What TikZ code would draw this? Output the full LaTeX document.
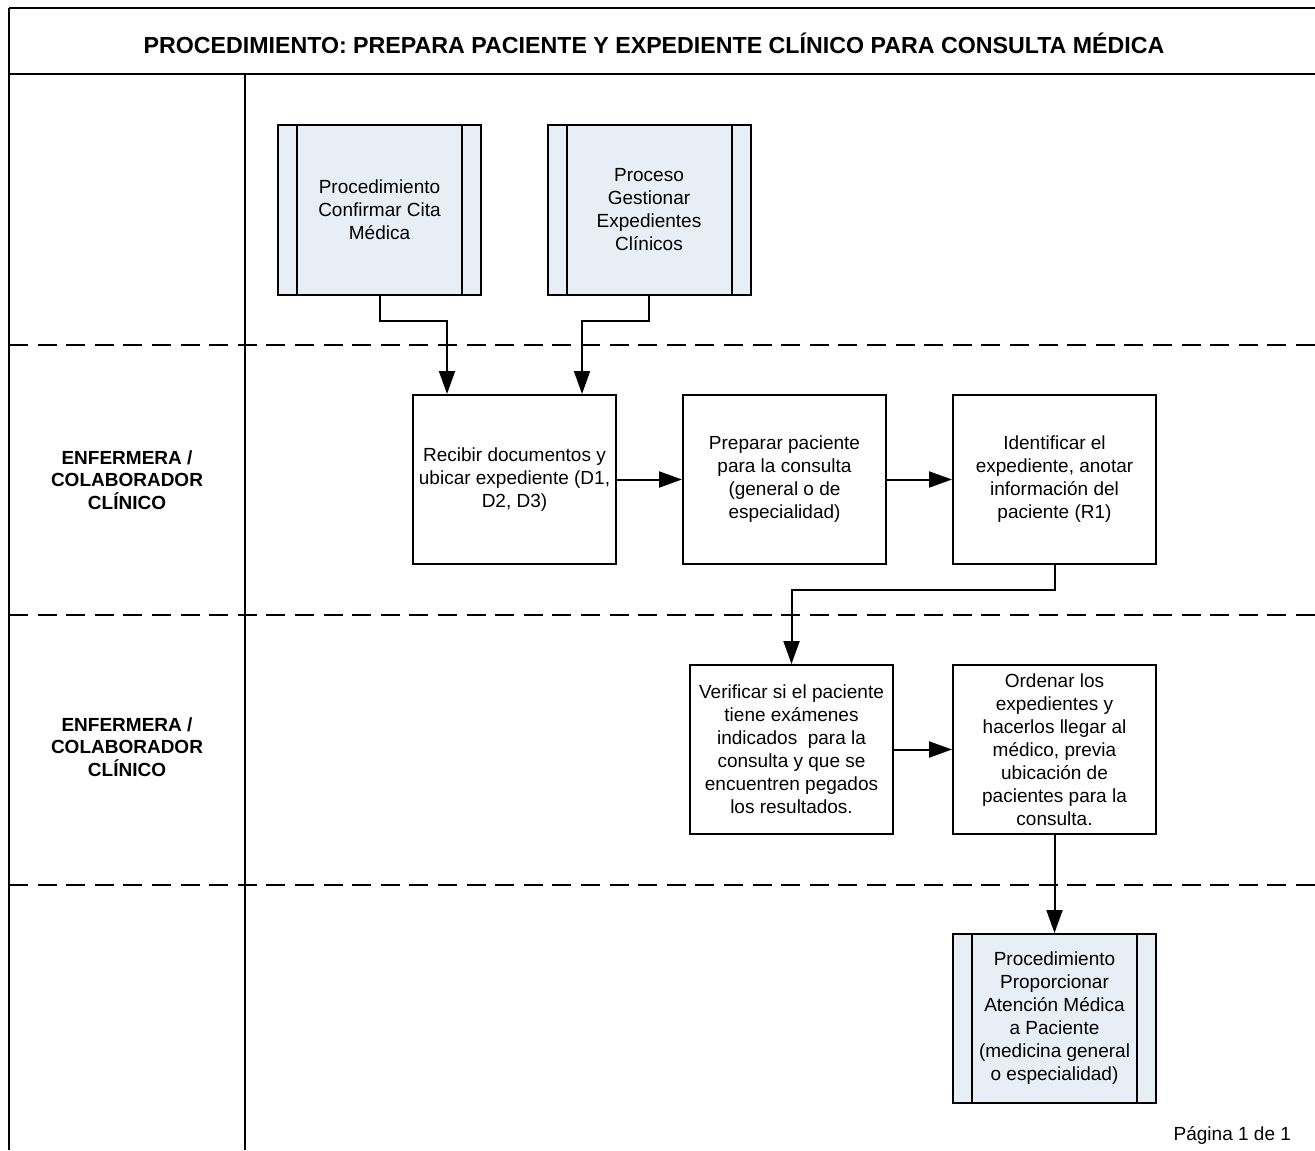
\documentclass[tikz,border=0pt]{standalone}
\usepackage{fontspec}
\setmainfont{Liberation Sans}
\usetikzlibrary{arrows.meta, positioning, calc}
\definecolor{subfill}{RGB}{232,238,246}

\begin{document}
\begin{tikzpicture}[
    x=0.5pt, y=-0.5pt,
    node distance=32.5pt and 32.5pt,
    task/.style={draw, line width=1pt, fill=white, align=center, minimum width=101.5pt,
        minimum height=84.5pt, inner sep=2pt, font=\fontsize{9.5}{11.5}\selectfont},
    subproc/.style={task, fill=subfill},
    flow/.style={-{Triangle[length=11.5pt, width=8pt]}, line width=1pt},
    frame/.style={line width=1pt},
    lane/.style={line width=1pt, dash pattern=on 9.5pt off 4.8pt},
    role/.style={align=center, font=\bfseries\fontsize{9.5}{11.25}\selectfont}
]
\useasboundingbox (0,0) rectangle (1315,1150);
% marco y carriles
\draw[frame] (9,8) -- (1315,8);
\draw[frame] (9,8) -- (9,1150);
\draw[frame] (9,74) -- (1315,74);
\draw[frame] (245,74) -- (245,1150);
\foreach \y in {345,615,885}
    \draw[lane] (9,\y) -- (1315,\y);
\node[font=\bfseries\fontsize{11.6}{14}\selectfont] (titulo) at (654,43)
    {PROCEDIMIENTO: PREPARA PACIENTE Y EXPEDIENTE CLÍNICO PARA CONSULTA MÉDICA};
\node[role] (rol1) at (127,480) {ENFERMERA /\\COLABORADOR\\CLÍNICO};
\node[role] (rol2) at (127,747) {ENFERMERA /\\COLABORADOR\\CLÍNICO};
% actividades
\node[subproc] (confirmar) at (379.5,210) {Procedimiento\\Confirmar Cita\\Médica};
\node[subproc] (gestionar) at (649,210) {Proceso\\Gestionar\\Expedientes\\Clínicos};
\node[task] (recibir) at (514.5,479.5) {Recibir documentos y\\ubicar expediente (D1,\\D2, D3)};
\node[task, right=of recibir] (preparar) {Preparar paciente\\para la consulta\\(general o de\\especialidad)};
\node[task, right=of preparar] (identificar) {Identificar el\\expediente, anotar\\información del\\paciente (R1)};
\node[task, below=49.5pt of identificar] (ordenar) {Ordenar los\\expedientes y\\hacerlos llegar al\\médico, previa\\ubicación de\\pacientes para la\\consulta.};
\node[task, left=29pt of ordenar] (verificar) {Verificar si el paciente\\tiene exámenes\\indicados\ \ para la\\consulta y que se\\encuentren pegados\\los resultados.};
\node[subproc, below=49pt of ordenar] (atencion) {Procedimiento\\Proporcionar\\Atención Médica\\a Paciente\\(medicina general\\o especialidad)};
\foreach \n in {confirmar, gestionar, atencion} {
    \draw[frame] ([xshift=10pt, yshift=-0.5pt]\n.north west) -- ([xshift=10pt, yshift=0.5pt]\n.south west);
    \draw[frame] ([xshift=-10pt, yshift=-0.5pt]\n.north east) -- ([xshift=-10pt, yshift=0.5pt]\n.south east);
}
\node[anchor=east, font=\fontsize{9.5}{11.5}\selectfont] (pagina) at (1298,1135) {Página 1 de 1};
% conectores
\coordinate (entrada1) at ($(recibir.north west)+(35,0)$);
\coordinate (entrada2) at ($(recibir.north east)+(-35,0)$);
\draw[flow] (confirmar.south) -- ++(0,25) -| (entrada1);
\draw[flow] (gestionar.south) -- ++(0,25) -| (entrada2);
\draw[flow] (recibir) -- (preparar);
\draw[flow] (preparar) -- (identificar);
\draw[flow] (identificar.south) -- ++(0,25) -| (verificar.north);
\draw[flow] (verificar) -- (ordenar);
\draw[flow] (ordenar) -- (atencion);
\end{tikzpicture}
\end{document}
